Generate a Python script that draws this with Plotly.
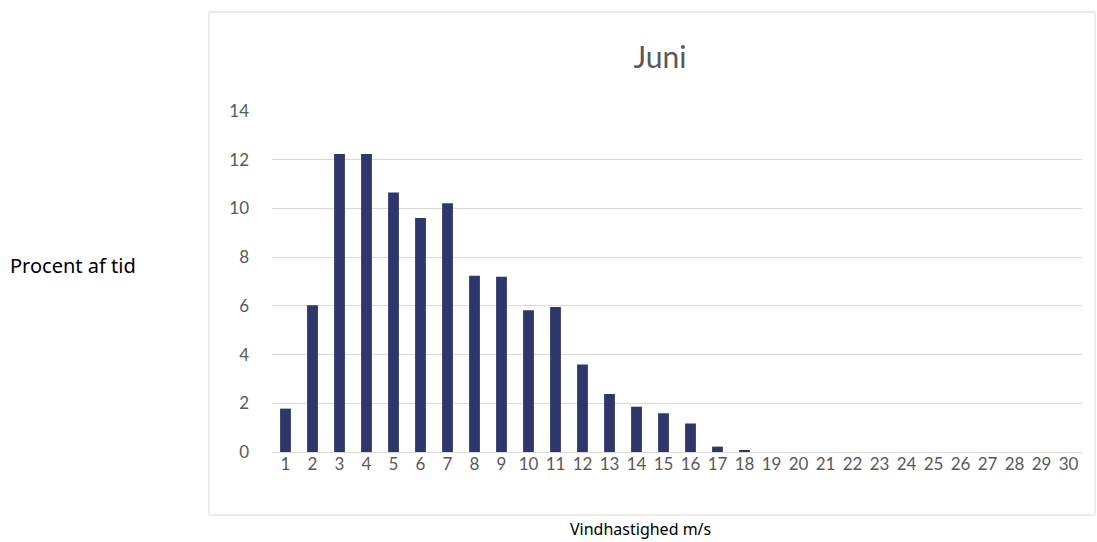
import plotly.graph_objects as go

categories = [str(i) for i in range(1, 31)]
values = [1.78, 6.03, 12.23, 12.23, 10.65, 9.61, 10.21, 7.24, 7.19, 5.82, 5.95,
          3.59, 2.38, 1.86, 1.59, 1.17, 0.22, 0.05] + [0] * 12
y_ticks = [0, 2, 4, 6, 8, 10, 12, 14]

W, H = 1097, 542
L, T = 272, 111
R = W - 1082
B = H - 452
pw, ph = W - L - R, H - T - B

def px_x(x):
    return (x - L) / pw

def px_y(y):
    return (H - B - y) / ph

fig = go.Figure(go.Bar(
    x=categories, y=values,
    marker=dict(color="#2e366c", line=dict(width=0)),
))

fig.update_layout(
    width=W, height=H,
    margin=dict(l=L, r=R, t=T, b=B),
    plot_bgcolor="white", paper_bgcolor="white",
    bargap=0.6,
    showlegend=False,
    title=dict(text="Juni", x=660 / W, xanchor="center", y=1 - 57 / H,
               yanchor="middle", font=dict(family="Lato", size=30, color="#595959")),
    xaxis=dict(type="category", showgrid=False, showline=False, ticks="",
               tickfont=dict(family="Lato", size=17, color="#595959")),
    yaxis=dict(range=[0, 14], tickvals=y_ticks, showgrid=True, gridcolor="#d9d9d9",
               gridwidth=1, zeroline=True, zerolinecolor="#d9d9d9", zerolinewidth=1,
               ticks="", ticklabelstandoff=22,
               tickfont=dict(family="Lato", size=17, color="#595959")),
    shapes=[dict(type="rect", xref="paper", yref="paper",
                 x0=px_x(209), x1=px_x(1095), y0=px_y(515), y1=px_y(12),
                 line=dict(color="#d9d9d9", width=1), fillcolor="rgba(0,0,0,0)", layer="below")],
    annotations=[
        dict(text="Procent af tid", xref="paper", yref="paper", x=px_x(8), y=px_y(265),
             xanchor="left", yanchor="middle", showarrow=False,
             font=dict(family="Noto Sans", size=20, color="#000000")),
        dict(text="Vindhastighed m/s", xref="paper", yref="paper", x=px_x(640), y=px_y(529),
             xanchor="center", yanchor="middle", showarrow=False,
             font=dict(family="Noto Sans", size=16, color="#000000")),
    ],
)

fig.write_html("out.html",
               config={"displayModeBar": False},
               post_script="document.body.style.margin='0';document.body.style.overflow='hidden';")
